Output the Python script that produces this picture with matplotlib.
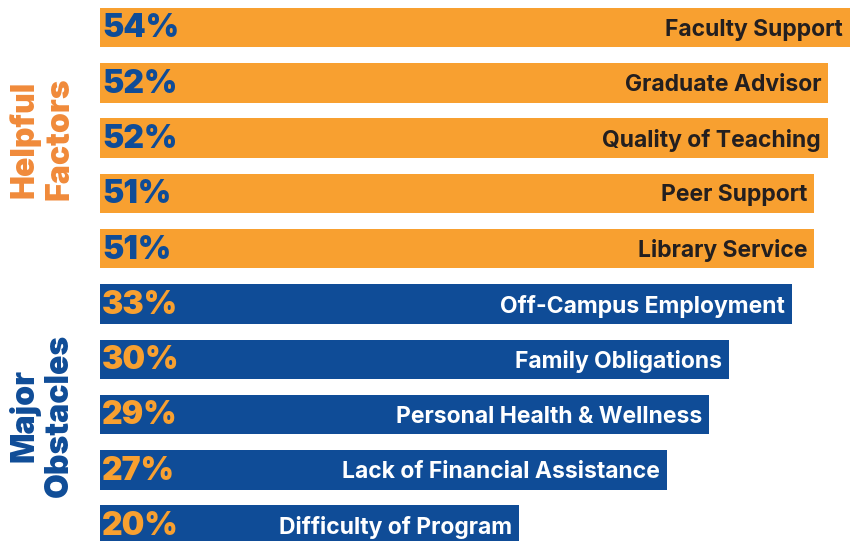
"""Helpful factors vs major obstacles: horizontal bar infographic."""

import matplotlib.pyplot as plt

# values shown on the bars (percent)
helpful_labels = ["Faculty Support", "Graduate Advisor", "Quality of Teaching",
                  "Peer Support", "Library Service"]
helpful_pct = [54, 52, 52, 51, 51]

obstacle_labels = ["Off-Campus Employment", "Family Obligations",
                   "Personal Health & Wellness", "Lack of Financial Assistance",
                   "Difficulty of Program"]
obstacle_pct = [33, 30, 29, 27, 20]

# drawn bar lengths (the infographic does not scale
# bars linearly with the percentages)
helpful_len = [750, 728, 728, 714, 714]
obstacle_len = [692, 629, 609, 567, 419]

ORANGE = "#f8a030"
BLUE = "#0f4c97"
GROUP_ORANGE = "#f08a3a"
FONT = ["Inter", "DejaVu Sans"]

W, H = 852, 541
fig = plt.figure(figsize=(W / 100, H / 100), dpi=100)
ax = fig.add_axes([100 / W, 0, 752 / W, 1])

labels = helpful_labels + obstacle_labels
pcts = helpful_pct + obstacle_pct
lengths = helpful_len + obstacle_len
colors = [ORANGE] * len(helpful_pct) + [BLUE] * len(obstacle_pct)
pct_colors = [BLUE] * len(helpful_pct) + [ORANGE] * len(obstacle_pct)
txt_colors = ["#231f20"] * len(helpful_pct) + ["white"] * len(obstacle_pct)

ys = list(range(len(labels)))
step = 55.3
ax.barh(ys, lengths, height=39.5 / step, color=colors, left=0)

for y, p, n, ln, pc, tc in zip(ys, pcts, labels, lengths, pct_colors, txt_colors):
    ax.annotate(f"{p}%", (0, y), xytext=(1.5, -1), textcoords="offset points",
                ha="left", va="center", fontsize=23, fontweight=900,
                color=pc, family=FONT)
    ax.annotate(n, (ln, y), xytext=(-5, -1.5), textcoords="offset points",
                ha="right", va="center", fontsize=16.5, fontweight=700,
                color=tc, family=FONT)

ax.set_xlim(0, 752)
ax.set_ylim((H - 27.5) / step, -27.5 / step)
ax.axis("off")

fig.text(42 / W, 1 - 139 / H, "Helpful\nFactors", rotation=90, ha="center",
         va="center", multialignment="center", fontsize=23, fontweight=900,
         color=GROUP_ORANGE, linespacing=1.15, family=FONT)
fig.text(42 / W, 1 - 415 / H, "Major\nObstacles", rotation=90, ha="center",
         va="center", multialignment="center", fontsize=23, fontweight=900,
         color=BLUE, linespacing=1.15, family=FONT)

fig.savefig("out.png", dpi=100)
